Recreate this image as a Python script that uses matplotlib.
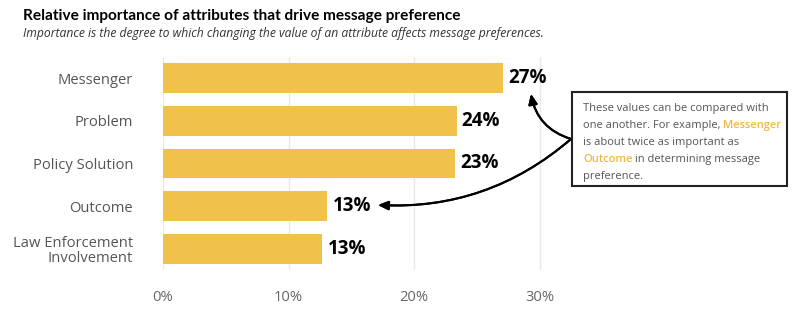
import matplotlib
matplotlib.use("Agg")
import matplotlib.pyplot as plt
from matplotlib.patches import Rectangle

categories = ["Messenger", "Problem", "Policy Solution", "Outcome", "Law Enforcement\nInvolvement"]
values = [27.1, 23.4, 23.3, 13.1, 12.7]
labels = ["27%", "24%", "23%", "13%", "13%"]
ticks = [0, 10, 20, 30]
tick_labels = ["0%", "10%", "20%", "30%"]

bar_color = "#F0C24B"
accent = "#F2B846"
gray = "#555555"

plt.rcParams["font.family"] = ["Open Sans", "DejaVu Sans"]

W, H = 800, 324
fig = plt.figure(figsize=(8, 3.24), dpi=100)

# axes placed in pixel terms
x0, x1 = 163, 163 + 33 * 12.55
y_top, y_bot = 57, 270
ax = fig.add_axes([x0 / W, 1 - y_bot / H, (x1 - x0) / W, (y_bot - y_top) / H])

ypos = list(range(len(categories)))
ax.barh(ypos, values, height=0.7, color=bar_color, zorder=2)
ax.set_xlim(0, 33)
ax.set_ylim(4.5, -0.5)
ax.set_yticks(ypos)
ax.set_yticklabels(categories, fontsize=10.6, color=gray, linespacing=1.0)
ax.set_xticks(ticks)
ax.set_xticklabels(tick_labels, fontsize=10.6, color="#666666")
ax.tick_params(length=0)
ax.tick_params(axis="y", pad=21.5)
ax.tick_params(axis="x", pad=14.5)
for s in ax.spines.values():
    s.set_visible(False)
ax.grid(axis="x", color="#e9e9e9", lw=1, zorder=0)

for y, v, lab in zip(ypos, values, labels):
    ax.text(v + 0.4, y, lab, va="center", ha="left", fontsize=13.5,
            fontweight="bold", color="black")

fig.text(23 / W, 1 - 16 / H, "Relative importance of attributes that drive message preference",
         fontsize=11.1, fontweight="bold", family=["Lato", "DejaVu Sans"],
         va="center", ha="left", color="black")
fig.text(23 / W, 1 - 33 / H, "Importance is the degree to which changing the value of an attribute affects message preferences.",
         fontsize=8.7, style="italic", va="center", ha="left", color="#333333")

# annotation box
box = Rectangle((572 / W, 1 - 186 / H), (787 - 572) / W, (186 - 92) / H,
                transform=fig.transFigure, fill=False, ec="#222222", lw=1.5)
fig.add_artist(box)

lines = [
    [("These values can be compared with", gray)],
    [("one another. For example, ", gray), ("Messenger", accent)],
    [("is about twice as important as", gray)],
    [("Outcome", accent), (" in determining message", gray)],
    [("preference.", gray)],
]
fig.canvas.draw()
renderer = fig.canvas.get_renderer()
ly = 109
for parts in lines:
    lx = 583
    for txt, col in parts:
        t = fig.text(lx / W, 1 - ly / H, txt, fontsize=8.0, color=col, va="center", ha="left",
                     fontweight="semibold" if col == accent else "normal")
        bb = t.get_window_extent(renderer)
        lx += bb.width
    ly += 16.8

arrow = dict(arrowstyle="-|>,head_length=0.5,head_width=0.22", color="black", lw=1.5,
             mutation_scale=12, shrinkA=0, shrinkB=0)
fig.add_artist(plt.annotate("", xy=(531, H - 94), xytext=(571, H - 139), xycoords="figure pixels",
                            textcoords="figure pixels",
                            arrowprops=dict(connectionstyle="arc3,rad=-0.3", **arrow)))
fig.add_artist(plt.annotate("", xy=(378, H - 205), xytext=(571, H - 139), xycoords="figure pixels",
                            textcoords="figure pixels",
                            arrowprops=dict(connectionstyle="arc3,rad=-0.2", **arrow)))

fig.savefig("out.png", dpi=100)
